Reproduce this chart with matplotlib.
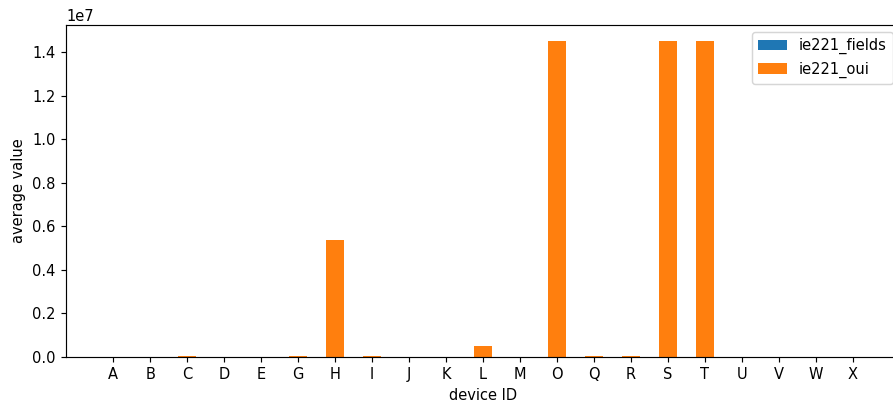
import matplotlib
matplotlib.use("Agg")
import matplotlib.pyplot as plt
import numpy as np

devices = ["A", "B", "C", "D", "E", "G", "H", "I", "J", "K", "L", "M",
           "O", "Q", "R", "S", "T", "U", "V", "W", "X"]
ie221_fields = [20, 20, 25, 20, 20, 25, 30, 25, 20, 20, 25, 20,
                30, 25, 25, 30, 30, 20, 20, 20, 20]
ie221_oui = [0, 0, 6.0e4, 0, 0, 5.0e4, 5.35e6, 6.0e4, 0, 0, 5.0e5, 0,
             1.452e7, 5.0e4, 6.0e4, 1.452e7, 1.452e7, 0, 0, 0, 0]

DPI = 105
fig = plt.figure(figsize=(893 / DPI, 407 / DPI), dpi=DPI)
ax = fig.add_axes([66 / 893, 1 - 357 / 407, (900 - 66) / 893, (357 - 25) / 407])

x = np.arange(len(devices))
w = 0.5
ax.bar(x, ie221_fields, w, color="#1f77b4", label="ie221_fields")
ax.bar(x, ie221_oui, w, color="#ff7f0e", label="ie221_oui")

ax.set_xticks(x)
ax.set_xticklabels(devices)
ax.set_xlabel("device ID")
ax.set_ylabel("average value")
ax.legend(loc="upper right")

fig.savefig("out.png", dpi=DPI)
